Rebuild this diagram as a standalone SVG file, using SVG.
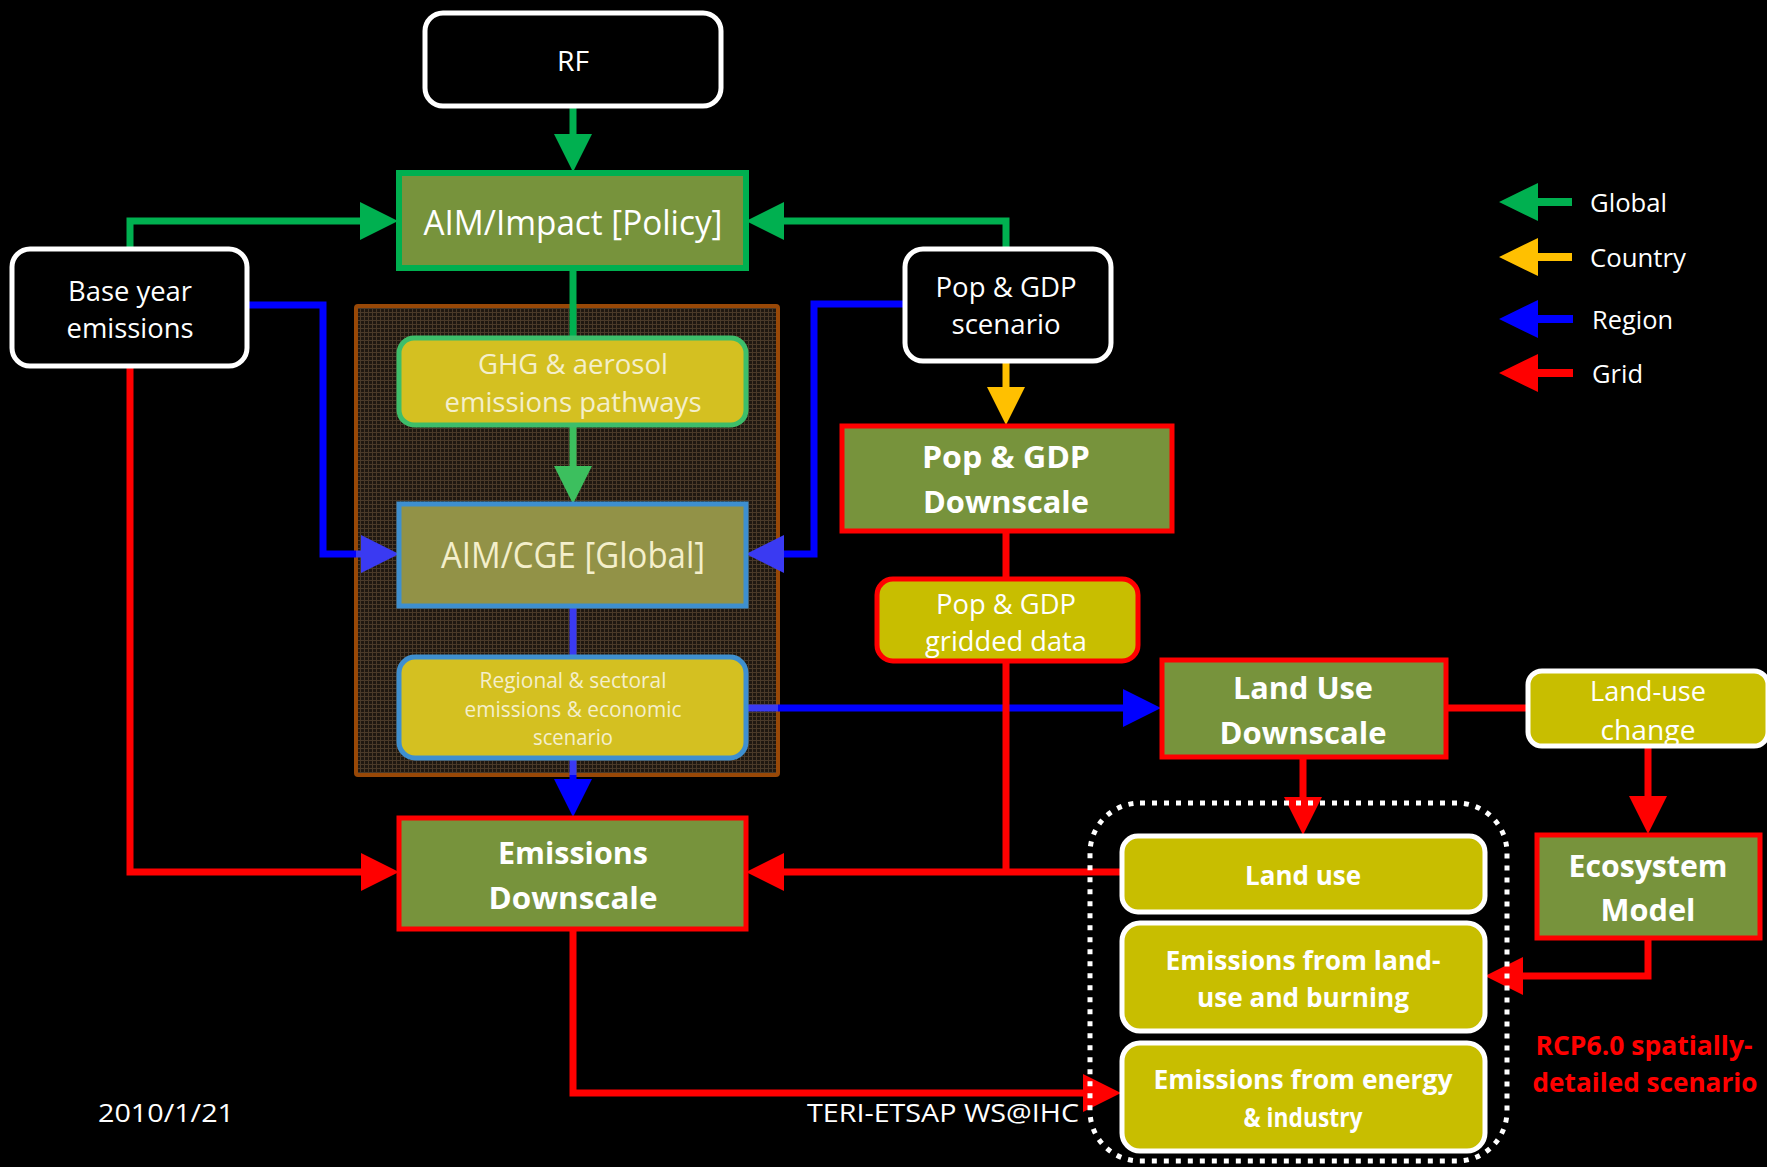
<svg xmlns="http://www.w3.org/2000/svg" width="1767" height="1167" viewBox="0 0 1767 1167">
<defs>
<pattern id="tex" width="4" height="4" patternUnits="userSpaceOnUse">
<rect width="4" height="4" fill="#1f1811"/>
<rect width="4" height="1" fill="#4a3a29"/>
<rect width="1" height="4" fill="#4a3a29"/>
</pattern>
<marker id="mG" markerUnits="userSpaceOnUse" markerWidth="40" markerHeight="40" refX="10" refY="19" orient="auto"><path d="M0,0 L38,19 L0,38 z" fill="#00B050"/></marker>
<marker id="mG2" markerUnits="userSpaceOnUse" markerWidth="40" markerHeight="40" refX="10" refY="19" orient="auto"><path d="M0,0 L38,19 L0,38 z" fill="#3CBF5E"/></marker>
<marker id="mB" markerUnits="userSpaceOnUse" markerWidth="40" markerHeight="40" refX="10" refY="19" orient="auto"><path d="M0,0 L38,19 L0,38 z" fill="#0000FF"/></marker>
<marker id="mB2" markerUnits="userSpaceOnUse" markerWidth="40" markerHeight="40" refX="10" refY="19" orient="auto"><path d="M0,0 L38,19 L0,38 z" fill="#3A3AF2"/></marker>
<marker id="mY" markerUnits="userSpaceOnUse" markerWidth="40" markerHeight="40" refX="10" refY="19" orient="auto"><path d="M0,0 L38,19 L0,38 z" fill="#FFC000"/></marker>
<marker id="mR" markerUnits="userSpaceOnUse" markerWidth="40" markerHeight="40" refX="10" refY="19" orient="auto"><path d="M0,0 L38,19 L0,38 z" fill="#FF0000"/></marker>
</defs>
<style>
text{font-family:"Open Sans","Liberation Sans",sans-serif;text-anchor:middle;dominant-baseline:central;}
.w{fill:#FFFFFF;}
.c{fill:#F4EFCB;}
.b{font-weight:bold;}
.blk{fill:#000000;stroke:#FFFFFF;stroke-width:5;}
.olv{fill:#77933C;stroke:#FF0000;stroke-width:5;}
.yel{fill:#C8BE00;stroke:#FFFFFF;stroke-width:5;}
.ln{fill:none;stroke-width:7;stroke-linejoin:miter;}
.g{stroke:#00B050;}
.bl{stroke:#0000FF;}
.r{stroke:#FF0000;}
.y{stroke:#FFC000;}
.st{text-anchor:start;}
</style>
<rect width="1767" height="1167" fill="#000000"/>

<g id="container">
<rect x="356" y="306" width="422" height="469" rx="2" fill="url(#tex)" stroke="#984807" stroke-width="4"/>
</g>

<g id="connectors">
<path class="ln g" d="M573,106 L573,144" marker-end="url(#mG)"/>
<path class="ln g" d="M130,248 L130,221 L370,221" marker-end="url(#mG)"/>
<path class="ln g" d="M1006,248 L1006,221 L774,221" marker-end="url(#mG)"/>
<path class="ln g" d="M573,268 L573,338"/>
<path class="ln" stroke="#3CBF5E" d="M573,425 L573,476" marker-end="url(#mG2)"/>
<path class="ln bl" d="M248,305 L323,305 L323,554 L356,554"/>
<path class="ln" stroke="#3A3AF2" d="M356,554 L371,554" marker-end="url(#mB2)"/>
<path class="ln bl" d="M904,304 L814,304 L814,554 L778,554"/>
<path class="ln" stroke="#3A3AF2" d="M778,554 L774,554" marker-end="url(#mB2)"/>
<path class="ln" stroke="#3A3AF2" d="M573,606 L573,657"/>
<path class="ln" stroke="#3A3AF2" d="M746,708 L778,708"/>
<path class="ln bl" d="M778,708 L1133,708" marker-end="url(#mB)"/>
<path class="ln" stroke="#3A3AF2" d="M573,758 L573,775"/>
<path class="ln bl" d="M573,775 L573,789" marker-end="url(#mB)"/>
<path class="ln y" d="M1006,361 L1006,397" marker-end="url(#mY)"/>
<path class="ln r" d="M1006,531 L1006,578"/>
<path class="ln r" d="M1006,661 L1006,872"/>
<path class="ln r" d="M1121,872 L774,872" marker-end="url(#mR)"/>
<path class="ln r" d="M130,366 L130,872 L371,872" marker-end="url(#mR)"/>
<path class="ln r" d="M573,929 L573,1093 L1093,1093" marker-end="url(#mR)"/>
<path class="ln r" d="M1303,757 L1303,807" marker-end="url(#mR)"/>
<path class="ln r" d="M1446,708 L1527,708"/>
<path class="ln r" d="M1648,746 L1648,806" marker-end="url(#mR)"/>
<path class="ln r" d="M1648,938 L1648,976 L1513,976" marker-end="url(#mR)"/>
</g>

<g id="n-rf">
<rect class="blk" x="425" y="13" width="296" height="93" rx="18"/>
<text class="w" x="573" y="60" font-size="28" textLength="32" lengthAdjust="spacingAndGlyphs">RF</text>
</g>
<g id="n-aim-impact">
<rect x="399" y="173" width="347" height="95" fill="#77933C" stroke="#00B050" stroke-width="6"/>
<text class="w" x="573" y="221" font-size="35" textLength="299" lengthAdjust="spacingAndGlyphs">AIM/Impact [Policy]</text>
</g>
<g id="n-base">
<rect class="blk" x="12" y="249" width="235" height="117" rx="18"/>
<text class="w" x="130" y="290" font-size="27" textLength="124" lengthAdjust="spacingAndGlyphs">Base year</text>
<text class="w" x="130" y="327" font-size="27" textLength="127" lengthAdjust="spacingAndGlyphs">emissions</text>
</g>
<g id="n-popscen">
<rect class="blk" x="905" y="249" width="206" height="112" rx="18"/>
<text class="w" x="1006" y="286" font-size="27" textLength="141" lengthAdjust="spacingAndGlyphs">Pop &amp; GDP</text>
<text class="w" x="1006" y="323" font-size="27" textLength="109" lengthAdjust="spacingAndGlyphs">scenario</text>
</g>
<g id="n-ghg">
<rect x="399" y="338" width="347" height="87" rx="15" fill="#D4C021" stroke="#3DBE6A" stroke-width="5"/>
<text class="c" x="573" y="363" font-size="28" textLength="190" lengthAdjust="spacingAndGlyphs">GHG &amp; aerosol</text>
<text class="c" x="573" y="401" font-size="28" textLength="257" lengthAdjust="spacingAndGlyphs">emissions pathways</text>
</g>
<g id="n-cge">
<rect x="399" y="504" width="347" height="102" fill="#929247" stroke="#3E8FCF" stroke-width="5"/>
<text class="c" x="573" y="554" font-size="36" textLength="264" lengthAdjust="spacingAndGlyphs">AIM/CGE [Global]</text>
</g>
<g id="n-regional">
<rect x="399" y="657" width="347" height="101" rx="16" fill="#D4C021" stroke="#3E8FCF" stroke-width="5"/>
<text class="c" x="573" y="680" font-size="21" textLength="187" lengthAdjust="spacingAndGlyphs">Regional &amp; sectoral</text>
<text class="c" x="573" y="709" font-size="21" textLength="217" lengthAdjust="spacingAndGlyphs">emissions &amp; economic</text>
<text class="c" x="573" y="737" font-size="21" textLength="80" lengthAdjust="spacingAndGlyphs">scenario</text>
</g>
<g id="n-emdown">
<rect class="olv" x="399" y="818" width="347" height="111"/>
<text class="w b" x="573" y="852" font-size="31" textLength="150" lengthAdjust="spacingAndGlyphs">Emissions</text>
<text class="w b" x="573" y="897" font-size="31" textLength="169" lengthAdjust="spacingAndGlyphs">Downscale</text>
</g>
<g id="n-popdown">
<rect class="olv" x="842" y="426" width="330" height="105"/>
<text class="w b" x="1006" y="456" font-size="31" textLength="168" lengthAdjust="spacingAndGlyphs">Pop &amp; GDP</text>
<text class="w b" x="1006" y="501" font-size="31" textLength="166" lengthAdjust="spacingAndGlyphs">Downscale</text>
</g>
<g id="n-gridded">
<rect x="877" y="579" width="261" height="82" rx="16" fill="#C8BE00" stroke="#FF0000" stroke-width="5"/>
<text class="w" x="1006" y="603" font-size="27" textLength="140" lengthAdjust="spacingAndGlyphs">Pop &amp; GDP</text>
<text class="w" x="1006" y="640" font-size="27" textLength="162" lengthAdjust="spacingAndGlyphs">gridded data</text>
</g>
<g id="n-landdown">
<rect class="olv" x="1162" y="660" width="284" height="97"/>
<text class="w b" x="1303" y="687" font-size="31" textLength="140" lengthAdjust="spacingAndGlyphs">Land Use</text>
<text class="w b" x="1303" y="732" font-size="31" textLength="167" lengthAdjust="spacingAndGlyphs">Downscale</text>
</g>
<g id="n-luchange">
<rect class="yel" x="1528" y="671" width="240" height="75" rx="14"/>
<text class="w" x="1648" y="690" font-size="27" textLength="116" lengthAdjust="spacingAndGlyphs">Land-use</text>
<text class="w" x="1648" y="729" font-size="27" textLength="95" lengthAdjust="spacingAndGlyphs">change</text>
</g>
<g id="n-eco">
<rect class="olv" x="1537" y="835" width="223" height="103"/>
<text class="w b" x="1648" y="865" font-size="31" textLength="159" lengthAdjust="spacingAndGlyphs">Ecosystem</text>
<text class="w b" x="1648" y="909" font-size="31" textLength="95" lengthAdjust="spacingAndGlyphs">Model</text>
</g>
<g id="n-output-group">
<rect x="1090" y="803" width="417" height="358" rx="50" fill="none" stroke="#FFFFFF" stroke-width="5" stroke-dasharray="5 7"/>
</g>
<g id="n-landuse">
<rect class="yel" x="1122" y="836" width="363" height="76" rx="16"/>
<text class="w b" x="1303" y="874" font-size="27" textLength="116" lengthAdjust="spacingAndGlyphs">Land use</text>
</g>
<g id="n-emland">
<rect class="yel" x="1122" y="923" width="363" height="108" rx="18"/>
<text class="w b" x="1303" y="959" font-size="27" textLength="275" lengthAdjust="spacingAndGlyphs">Emissions from land-</text>
<text class="w b" x="1303" y="996" font-size="27" textLength="212" lengthAdjust="spacingAndGlyphs">use and burning</text>
</g>
<g id="n-emenergy">
<rect class="yel" x="1122" y="1043" width="363" height="108" rx="18"/>
<text class="w b" x="1303" y="1078" font-size="27" textLength="299" lengthAdjust="spacingAndGlyphs">Emissions from energy</text>
<text class="w b" x="1303" y="1116" font-size="27" textLength="119" lengthAdjust="spacingAndGlyphs">&amp; industry</text>
</g>
<g id="rcp-label">
<text class="b" fill="#FF0000" x="1644" y="1044" font-size="27" textLength="217" lengthAdjust="spacingAndGlyphs">RCP6.0 spatially-</text>
<text class="b" fill="#FF0000" x="1645" y="1081" font-size="27" textLength="225" lengthAdjust="spacingAndGlyphs">detailed scenario</text>
</g>

<g id="legend">
<polygon points="1499,202 1538,183 1538,198 1572,198 1572,206 1538,206 1538,221" fill="#00B050"/>
<text class="w st" x="1590" y="202" font-size="25" textLength="77" lengthAdjust="spacingAndGlyphs">Global</text>
<polygon points="1499,257 1538,238 1538,253 1572,253 1572,261 1538,261 1538,276" fill="#FFC000"/>
<text class="w st" x="1590" y="257" font-size="25" textLength="96" lengthAdjust="spacingAndGlyphs">Country</text>
<polygon points="1499,319 1538,300 1538,315 1573,315 1573,323 1538,323 1538,338" fill="#0000FF"/>
<text class="w st" x="1592" y="319" font-size="25" textLength="81" lengthAdjust="spacingAndGlyphs">Region</text>
<polygon points="1499,373 1538,354 1538,369 1573,369 1573,377 1538,377 1538,392" fill="#FF0000"/>
<text class="w st" x="1592" y="373" font-size="25" textLength="51" lengthAdjust="spacingAndGlyphs">Grid</text>
</g>

<g id="footer">
<text class="w" x="166" y="1112" font-size="25" textLength="136" lengthAdjust="spacingAndGlyphs">2010/1/21</text>
<text class="w" x="943" y="1112" font-size="25" textLength="272" lengthAdjust="spacingAndGlyphs">TERI-ETSAP WS@IHC</text>
</g>
</svg>
